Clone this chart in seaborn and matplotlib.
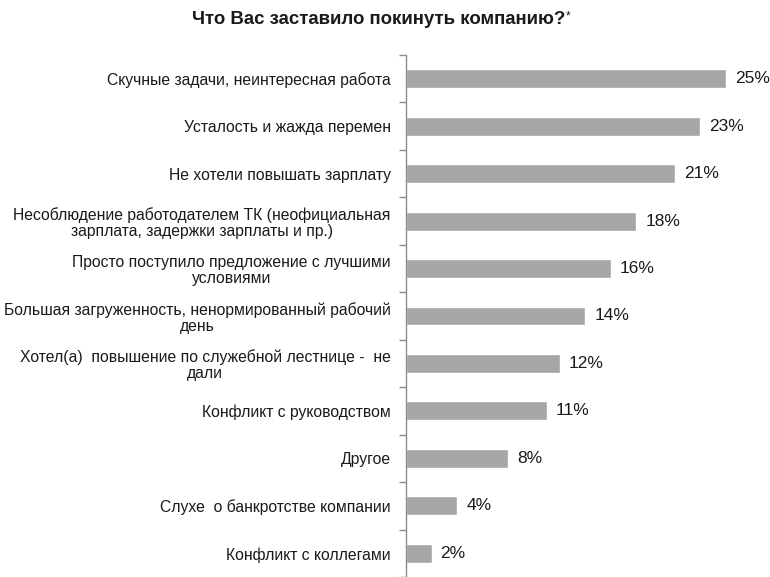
import matplotlib
matplotlib.use("Agg")
import matplotlib.pyplot as plt
import seaborn as sns
import pandas as pd
import numpy as np
from matplotlib.ticker import FixedLocator

reasons = [
    "Скучные задачи, неинтересная работа",
    "Усталость и жажда перемен",
    "Не хотели повышать зарплату",
    "Несоблюдение работодателем ТК (неофициальная\nзарплата, задержки зарплаты и пр.)",
    "Просто поступило предложение с лучшими\nусловиями",
    "Большая загруженность, ненормированный рабочий\nдень",
    "Хотел(а)  повышение по служебной лестнице -  не\nдали",
    "Конфликт с руководством",
    "Другое",
    "Слухе  о банкротстве компании",
    "Конфликт с коллегами",
]
shares = [25, 23, 21, 18, 16, 14, 12, 11, 8, 4, 2]

title = "Что Вас заставило покинуть компанию?"

sns.set_theme(style="white")
plt.rcParams["font.family"] = ["Liberation Sans", "DejaVu Sans"]

df = pd.DataFrame({"reason": reasons, "share": shares})

W, H = 770, 577
fig = plt.figure(figsize=(W / 100, H / 100), dpi=100)
ax_left, ax_right = 406 / W, (406 + 28 * 12.8) / W
ax_top = 1 - 55 / H
ax = fig.add_axes([ax_left, 0.0, ax_right - ax_left, ax_top])

sns.barplot(data=df, x="share", y="reason", orient="h", color="#a6a6a6",
            saturation=1, width=0.4, ax=ax)

ax.set_xlim(0, 28)
ax.set_ylim(len(reasons) - 0.5, -0.5)
ax.set_xlabel("")
ax.set_ylabel("")
ax.set_xticks([])

for s in ["top", "right", "bottom"]:
    ax.spines[s].set_visible(False)
ax.spines["left"].set_color("#8c8c8c")
ax.spines["left"].set_linewidth(1.0)

ax.tick_params(axis="y", which="major", length=0, pad=11, labelsize=11.3,
               labelcolor="#1a1a1a")
for lbl in ax.get_yticklabels():
    lbl.set_multialignment("center")
    lbl.set_linespacing(1.05)
ax.yaxis.set_minor_locator(FixedLocator(np.arange(-0.5, len(reasons), 1.0)))
ax.tick_params(axis="y", which="minor", left=True, length=5, width=1.0,
               color="#8c8c8c")

for i, v in enumerate(shares):
    ax.text(v + 0.7, i, f"{v}%", va="center", ha="left", fontsize=12.5,
            color="#1a1a1a")

fig.text(565 / W, 1 - 20 / H, title, ha="right", va="center", fontsize=13.4,
         fontweight="bold", color="#1a1a1a")
fig.text(566 / W, 1 - 16 / H, "*", ha="left", va="center", fontsize=8.5,
         color="#1a1a1a")

fig.savefig("out.png", dpi=100)
